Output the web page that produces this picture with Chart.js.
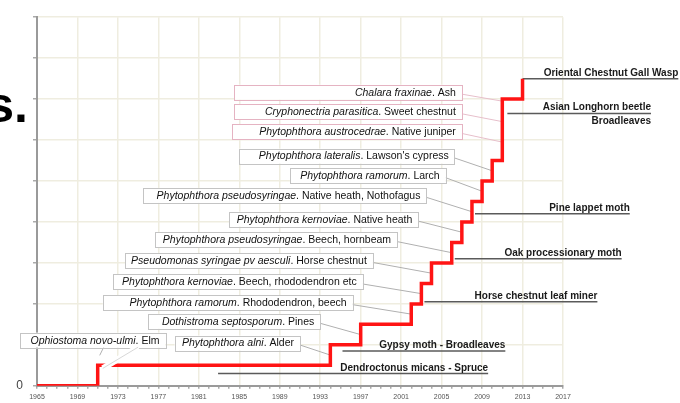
<!DOCTYPE html>
<html>
<head>
<meta charset="utf-8">
<script src="https://cdn.jsdelivr.net/npm/chart.js@4/dist/chart.umd.min.js"></script>
<style>
  html, body { margin: 0; padding: 0; background: #fff; }
  #wrap { position: relative; width: 680px; height: 403px; }
</style>
</head>
<body>
<div id="wrap"><canvas id="c" width="680" height="403"></canvas></div>
<script>
// ---------- DATA ----------
const stepYears   = [1965, 1971, 1994, 1997, 2002, 2003, 2004, 2006, 2007, 2008, 2009, 2010, 2011, 2013];
const stepCounts  = [0, 1, 2, 3, 4, 5, 6, 7, 8, 9, 10, 11, 14, 15];
const xTickLabels = [1965, 1969, 1973, 1977, 1981, 1985, 1989, 1993, 1997, 2001, 2005, 2009, 2013, 2017];
const yTickLabels = ['0'];

const pathogenSpecies = [
  'Ophiostoma novo-ulmi', 'Phytophthora alni', 'Dothistroma septosporum',
  'Phytophthora ramorum', 'Phytophthora kernoviae', 'Pseudomonas syringae pv aesculi',
  'Phytophthora pseudosyringae', 'Phytophthora kernoviae', 'Phytophthora pseudosyringae',
  'Phytophthora ramorum', 'Phytophthora lateralis', 'Phytophthora austrocedrae',
  'Cryphonectria parasitica', 'Chalara fraxinae'
];
const pathogenHosts = [
  'Elm', 'Alder', 'Pines', 'Rhododendron, beech', 'Beech, rhododendron etc', 'Horse chestnut',
  'Beech, hornbeam', 'Native heath', 'Native heath, Nothofagus', 'Larch', "Lawson's cypress",
  'Native juniper', 'Sweet chestnut', 'Ash'
];
const pathogenYears = [1971, 1994, 1997, 2002, 2003, 2004, 2006, 2007, 2008, 2009, 2010, 2011, 2011, 2011];

const pestNames = [
  'Dendroctonus micans - Spruce', 'Gypsy moth - Broadleaves', 'Horse chestnut leaf miner',
  'Oak processionary moth', 'Pine lappet moth', 'Asian Longhorn beetle', 'Oriental Chestnut Gall Wasp'
];
const pestSubtitles = ['', '', '', '', '', 'Broadleaves', ''];
const pestYears = [1982.9, 1995.2, 2003.3, 2006.3, 2008.3, 2011.5, 2013];

// ---------- LAYOUT (annotation placement, in axis units) ----------
// box: [leftYear, rightYear, centreValue, leader target value on the riser]
const boxLayout = [
  [1963.3, 1977.7, 2.23, 0.9],
  [1978.6, 1991.0, 2.09, 1.5],
  [1976.0, 1993.0, 3.15, 2.5],
  [1971.5, 1996.2, 4.06, 3.5],
  [1972.5, 1997.2, 5.07, 4.5],
  [1973.7, 1998.2, 6.12, 5.5],
  [1976.7, 2000.6, 7.14, 6.5],
  [1984.0, 2002.7, 8.14, 7.5],
  [1975.5, 2003.5, 9.3, 8.5],
  [1990.0, 2005.4, 10.26, 9.5],
  [1985.0, 2006.3, 11.22, 10.5],
  [1984.3, 2007.0, 12.42, 11.9],
  [1984.5, 2007.0, 13.38, 12.9],
  [1984.5, 2007.0, 14.34, 13.9]
];
const pinkBoxes = [11, 12, 13];
// pest underline: value level, right end (year units)
const pestLayout = [
  [0.6, 2009.6], [1.7, 2011.3], [4.1, 2020.4], [6.2, 2022.8],
  [8.4, 2023.6], [13.3, 2025.7], [15.0, 2028.4]
];

const FONT = '"Liberation Sans", Arial, sans-serif';

const annotations = {
  id: 'annotations',
  beforeDatasetsDraw(chart) {
    const { ctx, scales: { x, y } } = chart;
    ctx.save();
    // leaders
    boxLayout.forEach((b, i) => {
      const right = x.getPixelForValue(b[1]);
      const cy = y.getPixelForValue(b[2]);
      const tx = x.getPixelForValue(pathogenYears[i]);
      const ty = y.getPixelForValue(b[3]);
      ctx.beginPath();
      ctx.lineWidth = 1;
      ctx.strokeStyle = pinkBoxes.includes(i) ? '#e7bfcb' : '#b0b0b0';
      if (i === 0) {
        ctx.moveTo(x.getPixelForValue(1971.6), cy + 7);
        ctx.lineTo(tx + 2, ty - 12);
      } else {
        ctx.moveTo(right, cy + 2);
        ctx.lineTo(tx, ty);
      }
      ctx.stroke();
    });
    // boxes + text
    boxLayout.forEach((b, i) => {
      const left = x.getPixelForValue(b[0]);
      const right = x.getPixelForValue(b[1]);
      const cy = y.getPixelForValue(b[2]);
      ctx.fillStyle = '#fff';
      ctx.fillRect(left, cy - 7.5, right - left, 15);
      ctx.lineWidth = 1;
      ctx.strokeStyle = pinkBoxes.includes(i) ? '#e5b3c2' : '#c4c4c4';
      ctx.strokeRect(Math.round(left) + 0.5, Math.round(cy - 7.5) + 0.5, Math.round(right - left), 15);
      const host = '. ' + pathogenHosts[i];
      ctx.textBaseline = 'middle';
      ctx.fillStyle = '#111';
      ctx.font = '10.5px ' + FONT;
      const hw = ctx.measureText(host).width;
      ctx.textAlign = 'right';
      ctx.fillText(host, right - 6, cy + 0.5);
      ctx.font = 'italic 10.5px ' + FONT;
      ctx.fillText(pathogenSpecies[i], right - 6 - hw, cy + 0.5);
    });
    // pest underlines + labels
    pestLayout.forEach((p, i) => {
      const x0 = x.getPixelForValue(pestYears[i]);
      const x1 = x.getPixelForValue(p[1]);
      const ly = y.getPixelForValue(p[0]);
      ctx.beginPath();
      ctx.strokeStyle = '#5a5a5a';
      ctx.lineWidth = 1.5;
      ctx.moveTo(x0, ly);
      ctx.lineTo(x1, ly);
      ctx.stroke();
      ctx.fillStyle = '#1a1a1a';
      ctx.font = 'bold 10px ' + FONT;
      ctx.textAlign = 'right';
      ctx.textBaseline = 'alphabetic';
      ctx.fillText(pestNames[i], x1, ly - 3);
      if (pestSubtitles[i]) {
        ctx.textBaseline = 'top';
        ctx.fillText(pestSubtitles[i], x1, ly + 3);
      }
    });
    ctx.restore();
  },
  afterDatasetsDraw(chart) {
    const { ctx, scales: { x, y } } = chart;
    ctx.save();
    // the Elm leader crosses the line with a white halo
    const b = boxLayout[0];
    const sx = x.getPixelForValue(1975.0), sy = y.getPixelForValue(b[2]) + 7;
    const ex = x.getPixelForValue(1971.5), ey = y.getPixelForValue(0.85);
    ctx.beginPath();
    ctx.strokeStyle = '#fff';
    ctx.lineWidth = 6;
    ctx.moveTo(sx, sy); ctx.lineTo(ex, ey); ctx.stroke();
    ctx.beginPath();
    ctx.strokeStyle = '#d8d8d8';
    ctx.lineWidth = 1;
    ctx.moveTo(sx, sy); ctx.lineTo(ex, ey); ctx.stroke();
    // clipped title fragment at the left edge
    ctx.fillStyle = '#000';
    ctx.font = 'bold 50px ' + FONT;
    ctx.textAlign = 'right';
    ctx.textBaseline = 'alphabetic';
    ctx.fillText('s.', 28, 122);
    ctx.restore();
  }
};

new Chart(document.getElementById('c'), {
  type: 'line',
  data: {
    datasets: [{
      data: stepYears.map((yr, i) => ({ x: yr, y: stepCounts[i] })),
      borderColor: '#ff1414',
      borderWidth: 3.5,
      stepped: 'before',
      pointRadius: 0,
      fill: false
    }]
  },
  options: {
    responsive: false,
    animation: false,
    layout: { padding: { left: 0, right: 117, top: 14, bottom: 0 } },
    plugins: { legend: { display: false }, tooltip: { enabled: false } },
    scales: {
      x: {
        type: 'linear',
        min: 1965, max: 2017,
        afterFit: s => { s.height = 15; },
        afterBuildTicks: s => {
          const t = [];
          for (let v = 1965; v <= 2017; v++) t.push({ value: v });
          s.ticks = t;
        },
        ticks: {
          autoSkip: false, maxRotation: 0, padding: 4,
          font: { size: 7, family: FONT }, color: '#555',
          callback: v => xTickLabels.includes(v) ? String(v) : ''
        },
        grid: {
          color: c => (c.tick && xTickLabels.includes(c.tick.value)) ? '#efede0' : 'rgba(0,0,0,0)',
          lineWidth: 1.5,
          tickColor: '#aaa',
          tickLength: 3
        },
        border: { color: '#9a9a9a', width: 2 }
      },
      y: {
        min: 0, max: 18,
        afterFit: s => { s.width = 37; },
        ticks: {
          stepSize: 2, padding: 10,
          font: { size: 12, family: FONT }, color: '#444',
          callback: v => yTickLabels.includes(String(v)) ? String(v) : ''
        },
        grid: { color: '#efede0', lineWidth: 1.5, tickColor: '#aaa', tickLength: 4 },
        border: { color: '#9a9a9a', width: 2 }
      }
    }
  },
  plugins: [annotations]
});
</script>
</body>
</html>
